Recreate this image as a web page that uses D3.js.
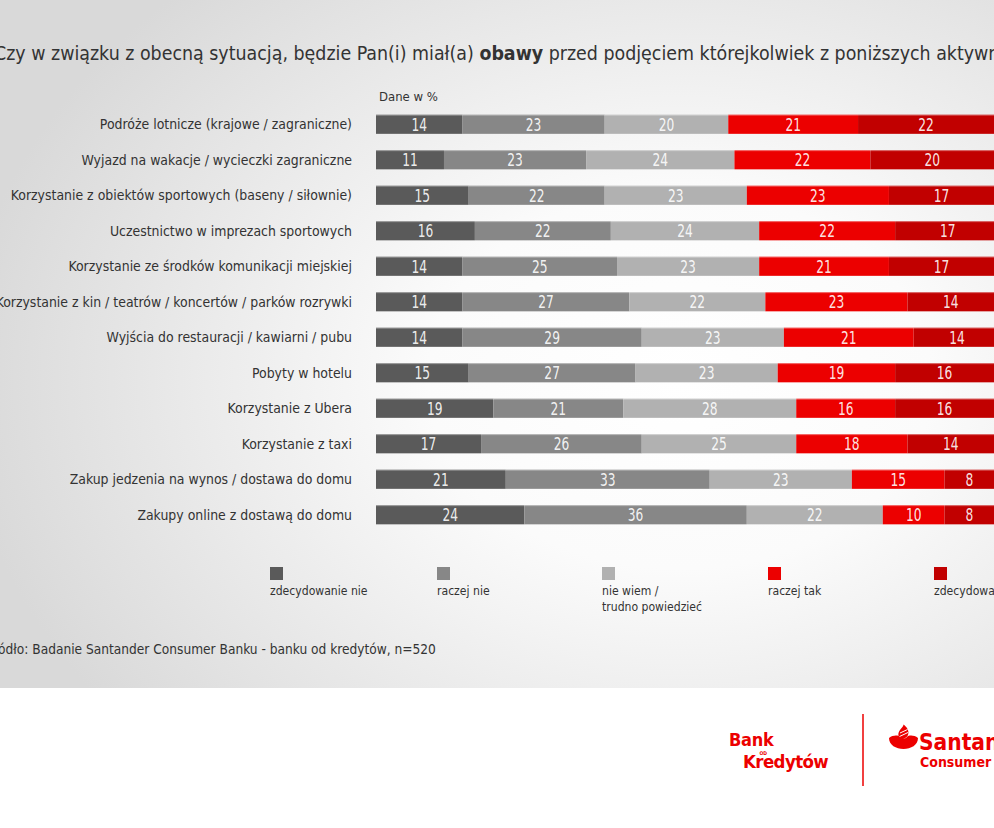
<!DOCTYPE html>
<html>
<head>
<meta charset="utf-8">
<script src="https://cdn.jsdelivr.net/npm/d3@7"></script>
<style>
  html, body { margin: 0; padding: 0; background: #fff; overflow: hidden; }
  svg { display: block; }
  text { font-family: "DejaVu Sans Condensed", "Liberation Sans", sans-serif; }
</style>
</head>
<body>
<div id="chart"></div>
<script>
const categories = [
  "Podróże lotnicze (krajowe / zagraniczne)",
  "Wyjazd na wakacje / wycieczki zagraniczne",
  "Korzystanie z obiektów sportowych (baseny / siłownie)",
  "Uczestnictwo w imprezach sportowych",
  "Korzystanie ze środków komunikacji miejskiej",
  "Korzystanie z kin / teatrów / koncertów / parków rozrywki",
  "Wyjścia do restauracji / kawiarni / pubu",
  "Pobyty w hotelu",
  "Korzystanie z Ubera",
  "Korzystanie z taxi",
  "Zakup jedzenia na wynos / dostawa do domu",
  "Zakupy online z dostawą do domu"
];
const seriesNames = ["zdecydowanie nie", "raczej nie", "nie wiem / trudno powiedzieć", "raczej tak", "zdecydowanie tak"];
const zdecydowanieNie = [14, 11, 15, 16, 14, 14, 14, 15, 19, 17, 21, 24];
const raczejNie       = [23, 23, 22, 22, 25, 27, 29, 27, 21, 26, 33, 36];
const nieWiem         = [20, 24, 23, 24, 23, 22, 23, 23, 28, 25, 23, 22];
const raczejTak       = [21, 22, 23, 22, 21, 23, 21, 19, 16, 18, 15, 10];
const zdecydowanieTak = [22, 20, 17, 17, 17, 14, 14, 16, 16, 14, 8, 8];
const colors = ["#5a5a5a", "#878787", "#b1b1b1", "#ec0000", "#c10000"];

const W = 994, H = 828;
const svg = d3.select("#chart").append("svg").attr("width", W).attr("height", H);

// background
const defs = svg.append("defs");
const rg = defs.append("radialGradient").attr("id", "bg")
  .attr("gradientUnits", "userSpaceOnUse")
  .attr("cx", 680).attr("cy", 380).attr("r", 720)
  .attr("gradientTransform", "translate(680,380) scale(1,0.75) translate(-680,-380)");
rg.append("stop").attr("offset", "0%").attr("stop-color", "#ffffff");
rg.append("stop").attr("offset", "35%").attr("stop-color", "#fbfbfb");
rg.append("stop").attr("offset", "100%").attr("stop-color", "#d9d9d9");
svg.append("rect").attr("x", 0).attr("y", 0).attr("width", W).attr("height", 688).attr("fill", "url(#bg)");

// title
const title = svg.append("text").attr("x", -6).attr("y", 60)
  .attr("font-size", 19.4).attr("fill", "#333");
title.append("tspan").text("Czy w związku z obecną sytuacją, będzie Pan(i) miał(a) ");
title.append("tspan").attr("font-weight", "bold").text("obawy");
title.append("tspan").text(" przed podjęciem którejkolwiek z poniższych aktywności?");

svg.append("text").attr("x", 379).attr("y", 101).attr("font-size", 13).attr("fill", "#333").text("Dane w %");

const data = categories.map((c, i) => ({
  cat: c,
  vals: [zdecydowanieNie[i], raczejNie[i], nieWiem[i], raczejTak[i], zdecydowanieTak[i]]
}));

const x = d3.scaleLinear().domain([0, 100]).range([376, 994]);
const y = d3.scaleBand().domain(categories).range([106.5, 532.5]).paddingInner(0.46).paddingOuter(0.23);

const rows = svg.append("g").selectAll("g").data(data).join("g");

rows.append("text")
  .attr("x", 352).attr("y", d => y(d.cat) + y.bandwidth() / 2)
  .attr("dy", "0.35em").attr("text-anchor", "end")
  .attr("font-size", 13.9).attr("fill", "#333")
  .text(d => d.cat);

rows.each(function(d) {
  let acc = 0;
  const segs = d.vals.map((v, k) => { const s = { v, k, x0: acc, x1: acc + v }; acc += v; return s; });
  const g = d3.select(this);
  g.selectAll("rect.seg").data(segs).join("rect").attr("class", "seg")
    .attr("x", s => x(s.x0)).attr("width", s => x(s.x1) - x(s.x0))
    .attr("y", y(d.cat)).attr("height", y.bandwidth())
    .attr("fill", s => colors[s.k]);
  g.append("rect").attr("x", x(0)).attr("width", x(100) - x(0))
    .attr("y", y(d.cat)).attr("height", 1).attr("fill", "#fff").attr("opacity", 0.35);
  g.selectAll("text.val").data(segs).join("text").attr("class", "val")
    .attr("transform", s => `translate(${(x(s.x0) + x(s.x1)) / 2},${y(d.cat) + y.bandwidth() / 2}) scale(0.8,1)`)
    .attr("dy", "0.37em")
    .attr("text-anchor", "middle").attr("font-size", 17)
    .attr("fill", "#fff").attr("fill-opacity", 0.9)
    .text(s => s.v);
});

// legend
const legendX = [270, 437, 602, 768, 934];
const legendLines = [["zdecydowanie nie"], ["raczej nie"], ["nie wiem /", "trudno powiedzieć"], ["raczej tak"], ["zdecydowanie tak"]];
const lg = svg.append("g").selectAll("g").data(seriesNames).join("g")
  .attr("transform", (d, i) => `translate(${legendX[i]},567)`);
lg.append("rect").attr("width", 13).attr("height", 13).attr("fill", (d, i) => colors[i]);
lg.each(function(d, i) {
  const t = d3.select(this).append("text").attr("y", 28).attr("font-size", 12.1).attr("fill", "#333");
  legendLines[i].forEach((ln, j) => t.append("tspan").attr("x", 0).attr("dy", j === 0 ? 0 : 16).text(ln));
});

// source
svg.append("text").attr("x", -15).attr("y", 654).attr("font-size", 13.6).attr("fill", "#333")
  .text("Źródło: Badanie Santander Consumer Banku - banku od kredytów, n=520");

// logos
const red = "#ec0000";
const logoFont = "'Open Sans', sans-serif";
svg.append("text").attr("x", 729).attr("y", 746).attr("font-size", 18).attr("fill", red)
  .attr("font-family", logoFont).attr("font-weight", 600).attr("letter-spacing", -0.3).text("Bank");
svg.append("text").attr("x", 759.5).attr("y", 754.5).attr("font-size", 5).attr("fill", red)
  .attr("font-family", logoFont).attr("font-weight", 700).text("OD");
svg.append("text").attr("x", 743).attr("y", 768).attr("font-size", 18.5).attr("fill", red)
  .attr("font-family", logoFont).attr("font-weight", 700).attr("letter-spacing", -0.6).text("Kredytów");
svg.append("line").attr("x1", 863).attr("x2", 863).attr("y1", 714).attr("y2", 786)
  .attr("stroke", red).attr("stroke-width", 1.5);
// flame
const fl = svg.append("g");
fl.append("path").attr("fill", red)
  .attr("d", "M889,738 C893,735 898,735 900,737 C902,739 905,739 907,737 C909,735 914,735 918,738 C918,745 911,749 903.5,749 C896,749 889,745 889,738 Z");
fl.append("path").attr("fill", red)
  .attr("d", "M899.5,738 C897,734 899,731 902,727.5 C903,726.5 903.5,725.5 903.5,724.5 C907,727 909.5,731 908,735 C907,737 905,738.5 903,739 C901.5,739.3 900.3,739 899.5,738 Z");
fl.append("path").attr("stroke", "#fff").attr("stroke-width", 1).attr("fill", "none")
  .attr("d", "M900,733 L907.5,729.5 M899.5,736.5 L908,732.5");
svg.append("text").attr("x", 919).attr("y", 750).attr("font-size", 22.5).attr("fill", red)
  .attr("font-family", logoFont).attr("font-weight", 600).text("Santander");
svg.append("text").attr("x", 920).attr("y", 767).attr("font-size", 14).attr("fill", red)
  .attr("font-family", logoFont).attr("font-weight", 700).text("Consumer");
</script>
</body>
</html>
